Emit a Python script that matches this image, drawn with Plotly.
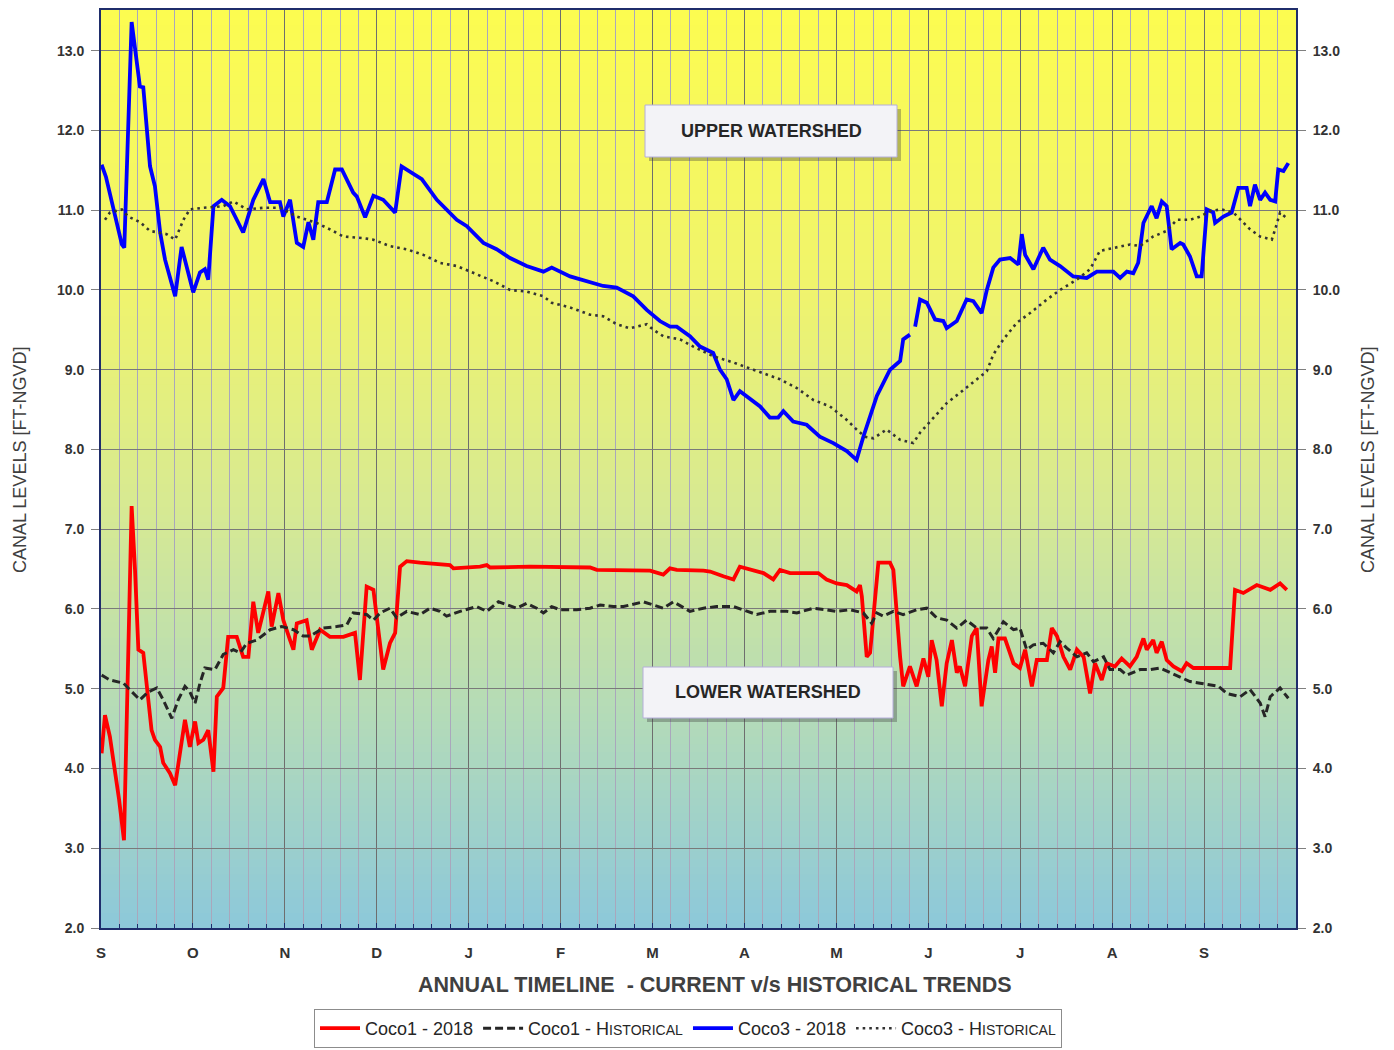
import plotly.graph_objects as go

# ---------------- data (x = day of timeline, 30 days per month label) ----------------
MONTH_LABELS = ["S", "O", "N", "D", "J", "F", "M", "A", "M", "J", "J", "A", "S"]
MONTH_TICKS = [0, 30, 60, 90, 120, 150, 180, 210, 240, 270, 300, 330, 360]

COCO1_2018_X = [0.2, 1.3, 2.9, 4.6, 5.9, 7.5, 10.0, 11.1, 12.2, 13.8, 15.4, 16.5, 17.6, 19.3, 20.3, 22.5, 24.2,
                25.8, 27.4, 29.0, 30.7, 31.8, 33.4, 35.0, 36.7, 37.8, 39.9, 41.5, 44.3, 46.4, 48.1, 49.7, 51.3,
                54.6, 55.7, 57.9, 59.5, 61.7, 62.8, 63.9, 67.1, 68.8, 71.5, 74.7, 79.1, 82.9, 84.5, 86.7, 88.9,
                92.1, 94.3, 96.0, 97.6, 99.8, 104.1, 113.9, 115.0, 123.7, 125.9, 127.0, 140.0, 159.6, 161.8,
                179.2, 183.5, 185.7, 187.9, 196.6, 198.8, 203.1, 206.4, 208.5, 212.9, 216.2, 219.4, 221.6,
                224.9, 230.3, 234.1, 236.8, 240.1, 243.4, 246.6, 247.7, 248.3, 249.9, 251.0, 252.1, 253.7,
                257.5, 258.6, 260.8, 261.8, 264.0, 266.2, 268.4, 270.0, 271.1, 272.7, 274.4, 276.0, 277.7,
                279.3, 280.3, 282.0, 284.2, 285.8, 287.4, 289.6, 290.7, 291.8, 292.9, 295.0, 297.8, 299.9,
                301.6, 303.8, 305.4, 308.7, 310.3, 312.0, 314.1, 316.3, 318.5, 320.7, 322.8, 324.4, 326.6,
                328.2, 330.9, 333.1, 335.8, 338.0, 340.2, 341.3, 343.4, 344.5, 346.2, 347.8, 350.0, 352.7,
                354.3, 356.5, 368.5, 370.1, 372.8, 377.2, 381.6, 384.8, 387.0]
COCO1_2018_Y = [4.19, 4.67, 4.40, 3.98, 3.61, 3.10, 7.29, 6.49, 5.49, 5.45, 4.90, 4.48, 4.36, 4.27, 4.07, 3.94, 3.79,
                4.19, 4.61, 4.27, 4.59, 4.32, 4.36, 4.48, 3.96, 4.90, 5.01, 5.65, 5.65, 5.40, 5.40, 6.09, 5.70,
                6.22, 5.78, 6.20, 5.86, 5.61, 5.49, 5.82, 5.86, 5.49, 5.74, 5.65, 5.65, 5.70, 5.11, 6.28, 6.24,
                5.24, 5.57, 5.70, 6.53, 6.60, 6.58, 6.55, 6.51, 6.53, 6.55, 6.52, 6.53, 6.52, 6.49,
                6.48, 6.43, 6.51, 6.49, 6.48, 6.47, 6.41, 6.37, 6.53, 6.49, 6.45, 6.37, 6.49,
                6.45, 6.45, 6.45, 6.37, 6.32, 6.30, 6.22, 6.30, 6.16, 5.40, 5.45, 5.91, 6.58,
                6.58, 6.49, 5.40, 5.03, 5.28, 5.03, 5.38, 5.15, 5.61, 5.36, 4.78, 5.32, 5.61,
                5.20, 5.28, 5.03, 5.66, 5.76, 4.78, 5.36, 5.53, 5.20, 5.63, 5.63, 5.32, 5.26,
                5.49, 5.03, 5.36, 5.36, 5.76, 5.66, 5.40, 5.24, 5.49, 5.40, 4.94, 5.32, 5.11,
                5.32, 5.28, 5.38, 5.28, 5.40, 5.63, 5.49, 5.61, 5.45, 5.59, 5.36, 5.28, 5.22,
                5.32, 5.26, 5.26, 6.24, 6.20, 6.30, 6.24, 6.32, 6.24]

COCO1_HIST_X = [0.2, 2.9, 7.3, 10.5, 12.7, 15.4, 18.2, 20.3, 23.1, 25.2, 27.4, 29.0, 30.7, 32.3, 33.9, 37.2, 39.9,
                43.2, 45.4, 47.6, 50.8, 55.2, 59.0, 62.8, 66.0, 68.2, 72.6, 76.9, 80.2, 82.3, 86.7, 88.9, 91.1,
                94.3, 96.5, 99.8, 104.1, 107.4, 110.6, 112.8, 117.2, 122.6, 125.9, 129.7, 132.4, 135.7, 138.9,
                142.2, 144.4, 147.1, 149.8, 155.3, 159.6, 162.9, 167.2, 170.5, 177.0, 180.3, 183.5, 186.8,
                192.2, 196.6, 200.9, 206.4, 209.6, 214.0, 218.3, 223.8, 227.1, 232.5, 236.8, 240.1, 244.5,
                248.8, 251.5, 253.2, 255.3, 258.6, 261.8, 266.2, 269.5, 272.7, 276.0, 279.3, 282.5, 285.8,
                289.1, 291.2, 294.5, 297.8, 299.9, 302.1, 304.3, 307.5, 310.8, 313.0, 315.2, 318.5, 321.7,
                323.9, 327.2, 329.3, 332.6, 334.8, 339.1, 342.4, 345.6, 348.9, 352.2, 355.4, 358.7, 362.0,
                364.7, 367.5, 371.8, 375.0, 378.3, 379.9, 381.6, 384.8, 387.5]
COCO1_HIST_Y = [5.17, 5.11, 5.07, 4.94, 4.86, 4.96, 5.01, 4.86, 4.63, 4.86, 5.03, 4.96, 4.82, 5.07, 5.26, 5.24, 5.43,
                5.49, 5.45, 5.57, 5.61, 5.74, 5.78, 5.74, 5.66, 5.66, 5.76, 5.78, 5.80, 5.95, 5.93, 5.86, 5.95,
                6.01, 5.89, 5.97, 5.93, 6.01, 5.97, 5.91, 5.97, 6.03, 5.97, 6.09, 6.05, 6.01, 6.07,
                6.01, 5.95, 6.03, 5.99, 5.99, 6.01, 6.05, 6.03, 6.03, 6.09, 6.05, 6.01, 6.09,
                5.97, 6.01, 6.03, 6.03, 5.99, 5.93, 5.97, 5.97, 5.95, 6.01, 5.99, 5.97, 5.99,
                5.95, 5.82, 5.95, 5.91, 5.97, 5.93, 5.99, 6.01, 5.89, 5.86, 5.76, 5.86, 5.76,
                5.76, 5.63, 5.84, 5.74, 5.76, 5.49, 5.55, 5.57, 5.45, 5.59, 5.51, 5.40, 5.45,
                5.34, 5.40, 5.24, 5.24, 5.17, 5.24, 5.24, 5.26, 5.20, 5.15, 5.09, 5.07, 5.05,
                5.03, 4.94, 4.90, 4.99, 4.82, 4.65, 4.90, 5.01, 4.88]

COCO3_2018_X = [0.2, 1.6, 6.8, 7.6, 10.0, 11.7, 12.7, 13.8, 16.0, 17.6, 19.3, 20.9, 24.2, 26.3, 28.0, 30.1, 32.3,
                33.9, 35.0, 36.7, 39.4, 42.1, 46.4, 49.7, 53.0, 55.2, 58.4, 59.5, 61.7, 63.9, 66.0, 67.7, 69.3,
                70.9, 73.7, 76.4, 78.6, 82.3, 83.5, 86.2, 88.9, 92.1, 96.0, 98.1, 104.7, 109.6, 116.1, 119.4,
                124.8, 129.1, 133.5, 138.9, 144.4, 147.1, 153.1, 158.5, 163.9, 168.3, 173.7, 178.1, 182.4,
                185.7, 187.9, 192.2, 195.5, 199.8, 202.0, 204.2, 206.4, 208.5, 210.7, 215.1, 218.3, 221.0,
                222.7, 225.9, 230.3, 234.6, 239.0, 243.4, 246.6, 248.8, 253.2, 257.5, 260.8, 261.8, 264.0,
                264.8, 265.7, 267.3, 269.5, 272.2, 274.9, 276.0, 279.3, 282.5, 284.7, 287.4, 289.1, 291.2,
                293.4, 296.7, 299.4, 300.5, 301.6, 304.3, 307.5, 309.7, 313.0, 317.3, 321.7, 325.0, 330.4,
                332.6, 334.8, 336.9, 338.5, 340.2, 342.9, 344.5, 346.2, 347.8, 349.4, 352.2, 353.2, 355.4,
                357.6, 359.2, 360.9, 363.0, 363.6, 366.3, 369.0, 371.2, 373.9, 375.0, 376.6, 378.3, 379.9,
                381.6, 383.2, 384.2, 385.9, 387.5]
COCO3_2018_Y = [11.57, 11.42, 10.57, 10.53, 13.36, 12.89, 12.55, 12.54, 11.55, 11.30, 10.72, 10.38, 9.92, 10.54,
                10.29, 9.97, 10.22, 10.26, 10.13, 11.05, 11.13, 11.05, 10.72, 11.13, 11.39, 11.10, 11.10, 10.92,
                11.13, 10.59, 10.54, 10.85, 10.63, 11.10, 11.10, 11.51, 11.51, 11.22, 11.17, 10.91, 11.18,
                11.13, 10.97, 11.55, 11.39, 11.13, 10.88, 10.80, 10.59, 10.51, 10.40, 10.30, 10.23, 10.28,
                10.17, 10.11, 10.05, 10.03, 9.92, 9.75, 9.61, 9.54, 9.54, 9.42, 9.29, 9.21, 9.00, 8.88, 8.62,
                8.73, 8.67, 8.54, 8.40, 8.40, 8.48, 8.35, 8.31, 8.16, 8.08, 7.98, 7.87, 8.16, 8.67, 9.00,
                9.11, 9.38, 9.44, None, 9.54, 9.88, 9.84, 9.63, 9.61, 9.52, 9.61, 9.88, 9.86, 9.71, 10.00,
                10.28, 10.38, 10.40, 10.32, 10.70, 10.44, 10.26, 10.53, 10.38, 10.30, 10.17, 10.15, 10.23,
                10.23, 10.15, 10.23, 10.21, 10.34, 10.84, 11.05, 10.90, 11.11, 11.05, 10.51, 10.59, 10.57,
                10.42, 10.17, 10.17, 11.01, 10.97, 10.84, 10.92, 10.97, 11.28, 11.28, 11.05, 11.32, 11.13,
                11.22, 11.13, 11.11, 11.51, 11.49, 11.59]

COCO3_HIST_X = [1.3, 2.9, 6.8, 8.9, 12.7, 16.0, 21.4, 24.2, 26.9, 29.0, 33.4, 39.9, 43.2, 47.6, 53.0, 58.4, 63.9,
                70.4, 74.7, 79.1, 85.6, 88.9, 94.3, 99.8, 105.2, 110.6, 116.1, 121.5, 128.0, 133.5, 138.9,
                144.4, 147.1, 153.1, 159.6, 163.9, 168.3, 172.6, 178.1, 180.3, 183.5, 189.0, 193.3, 199.8,
                206.4, 212.9, 217.3, 221.6, 227.1, 232.5, 237.9, 243.4, 246.6, 249.3, 252.1, 256.4, 260.8,
                265.1, 267.3, 271.6, 276.0, 280.3, 284.7, 289.1, 291.2, 294.5, 298.9, 303.2, 308.7, 313.0,
                318.5, 322.8, 326.0, 330.4, 335.8, 339.1, 343.4, 347.8, 351.1, 355.4, 358.7, 362.0, 365.8,
                369.6, 372.3, 375.0, 378.3, 382.1, 383.2, 384.8, 387.0]
COCO3_HIST_Y = [10.88, 10.97, 11.01, 10.92, 10.85, 10.74, 10.70, 10.63, 10.88, 11.01, 11.03, 11.05, 11.11, 11.01,
                11.03, 11.03, 10.92, 10.84, 10.76, 10.67, 10.65, 10.63, 10.55, 10.51, 10.44, 10.34, 10.30,
                10.21, 10.11, 10.00, 9.98, 9.92, 9.84, 9.78, 9.69, 9.67, 9.57, 9.52, 9.57, 9.50, 9.42, 9.38,
                9.29, 9.17, 9.09, 9.00, 8.94, 8.88, 8.77, 8.62, 8.54, 8.37, 8.25, 8.16, 8.14, 8.25, 8.12,
                8.08, 8.21, 8.40, 8.58, 8.71, 8.85, 8.98, 9.19, 9.38, 9.59, 9.71, 9.88, 10.00, 10.13, 10.26,
                10.49, 10.53, 10.57, 10.55, 10.67, 10.74, 10.88, 10.88, 10.92, 10.99, 11.01, 10.97, 10.86,
                10.76, 10.67, 10.63, 10.76, 10.97, 10.90]

# ---------------- layout geometry (pixels) ----------------
W, H = 1394, 1050
L, R, T, B = 101, 1296, 10, 928   # plot area edges in pixels


def pxx(px):
    return (px - L) / (R - L)


def pxy(py):
    return (B - py) / (B - T)


FONT = "Liberation Sans, Arial, sans-serif"
NARROW = "Liberation Sans Narrow, Liberation Sans, Arial, sans-serif"
NAVY = "#1F2D6B"
SC = "<span style='font-size:14px'>%s</span>"   # small-caps imitation

fig = go.Figure()
fig.add_trace(go.Scatter(x=COCO1_2018_X, y=COCO1_2018_Y, mode="lines", name="Coco1 - 2018",
                         line=dict(color="#FF0000", width=3.8)))
fig.add_trace(go.Scatter(x=COCO1_HIST_X, y=COCO1_HIST_Y, mode="lines",
                         name="Coco1 - H" + SC % "ISTORICAL",
                         line=dict(color="#262626", width=3, dash="8px,4px")))
fig.add_trace(go.Scatter(x=COCO3_2018_X, y=COCO3_2018_Y, mode="lines", name="Coco3 - 2018",
                         line=dict(color="#0000FF", width=3.8)))
fig.add_trace(go.Scatter(x=COCO3_HIST_X, y=COCO3_HIST_Y, mode="lines", yaxis="y2",
                         name="Coco3 - H" + SC % "ISTORICAL",
                         line=dict(color="#333333", width=2.6, dash="2.6px,4px")))

# gradient background (yellow -> light blue)
stops = [(0.0, (252, 252, 80)), (0.30, (240, 244, 108)), (0.55, (214, 233, 148)),
         (0.78, (178, 218, 186)), (1.0, (140, 200, 218))]


def grad(t):
    for (t0, c0), (t1, c1) in zip(stops[:-1], stops[1:]):
        if t <= t1:
            f = (t - t0) / (t1 - t0)
            return "rgb(%d,%d,%d)" % tuple(round(a + (b - a) * f) for a, b in zip(c0, c1))
    return "rgb(%d,%d,%d)" % stops[-1][1]


shapes = []
N = 120
for i in range(N):
    y1 = 1 - i / N
    y0 = 1 - (i + 1) / N
    shapes.append(dict(type="rect", xref="paper", yref="paper", x0=0, x1=1, y0=y0 - 0.001, y1=y1,
                       fillcolor=grad((i + 0.5) / N), line=dict(width=0), layer="below"))

# annotation boxes with shadows
for (bx0, by0, bx1, by1) in [(645, 105, 897, 157), (643, 667, 893, 718)]:
    shapes.append(dict(type="rect", xref="paper", yref="paper",
                       x0=pxx(bx0 + 4), x1=pxx(bx1 + 4), y0=pxy(by1 + 4), y1=pxy(by0 + 4),
                       fillcolor="rgba(60,60,60,0.35)", line=dict(width=0), layer="above"))
    shapes.append(dict(type="rect", xref="paper", yref="paper",
                       x0=pxx(bx0), x1=pxx(bx1), y0=pxy(by1), y1=pxy(by0),
                       fillcolor="#F3F3F7", line=dict(color="#B4AEDA", width=1), layer="above"))

annotations = [
    dict(text="<b>UPPER WATERSHED</b>", xref="paper", yref="paper", x=pxx(771), y=pxy(131),
         xanchor="center", yanchor="middle",
         showarrow=False, font=dict(family=FONT, size=18, color="#262626")),
    dict(text="<b>LOWER WATERSHED</b>", xref="paper", yref="paper", x=pxx(768), y=pxy(692),
         xanchor="center", yanchor="middle",
         showarrow=False, font=dict(family=FONT, size=18, color="#262626")),
    dict(text="CANAL LEVELS [FT-NGVD]", xref="paper", yref="paper", x=pxx(20), y=pxy(460),
         xanchor="center", yanchor="middle",
         textangle=-90, showarrow=False, font=dict(family=FONT, size=18, color="#404040")),
    dict(text="CANAL LEVELS [FT-NGVD]", xref="paper", yref="paper", x=pxx(1368), y=pxy(460),
         xanchor="center", yanchor="middle",
         textangle=-90, showarrow=False, font=dict(family=FONT, size=18, color="#404040")),
    dict(text="<b>ANNUAL TIMELINE  - CURRENT v/s HISTORICAL TRENDS</b>", xref="paper", yref="paper",
         x=pxx(715), y=pxy(985), xanchor="center", yanchor="middle",
         showarrow=False, font=dict(family=FONT, size=21.5, color="#404040")),
]

yax = dict(range=[2, 13.51], tickmode="linear", tick0=2, dtick=1, tickformat=".1f",
           showgrid=True, gridcolor="#7A7A7A", gridwidth=1, zeroline=False,
           ticks="outside", ticklen=8, tickcolor="#808080", ticklabelstandoff=4,
           tickfont=dict(family=FONT, size=14, color="#333333", weight="bold"),
           showline=True, linecolor=NAVY, linewidth=2, automargin=False)

fig.update_layout(
    width=W, height=H,
    margin=dict(l=L, r=W - R, t=T, b=H - B, autoexpand=False),
    paper_bgcolor="white", plot_bgcolor="rgb(140,200,218)",
    shapes=shapes, annotations=annotations,
    xaxis=dict(range=[0, 390], tickmode="array", tickvals=MONTH_TICKS, ticktext=MONTH_LABELS,
               showgrid=True, gridcolor="#6E6E6E", gridwidth=1, zeroline=False,
               ticks="inside", ticklen=5, tickcolor=NAVY, ticklabelstandoff=10,
               tickfont=dict(family=FONT, size=15, color="#333333", weight="bold"),
               showline=True, linecolor=NAVY, linewidth=2, mirror=True, automargin=False,
               minor=dict(tickmode="linear", tick0=0, dtick=6, showgrid=True, gridcolor="#A9A7BC",
                          gridwidth=1, ticks="inside", ticklen=4, tickcolor=NAVY)),
    yaxis=yax,
    yaxis2=dict(yax, overlaying="y", side="right", showgrid=False),
    legend=dict(orientation="h", x=pxx(688), xanchor="center", y=pxy(1048), yanchor="bottom",
                bgcolor="white", bordercolor="#8C8C8C", borderwidth=1,
                font=dict(family=NARROW, size=18, color="#262626"), itemwidth=40, tracegroupgap=0),
    showlegend=True,
)

fig.write_html("out.html", config={"displayModeBar": False},
               post_script="document.body.style.margin='0px';")
